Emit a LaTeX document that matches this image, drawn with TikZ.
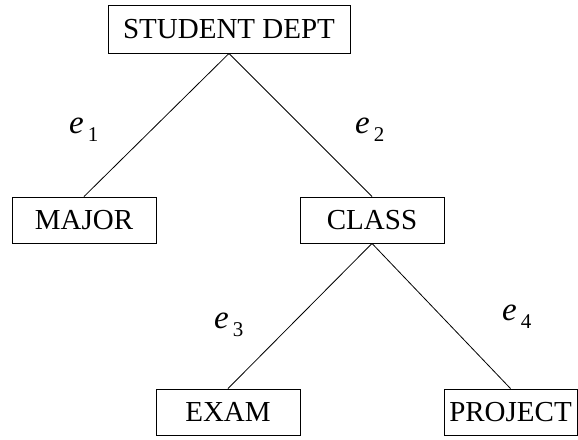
\documentclass[tikz,border=0pt]{standalone}
\usepackage{fontspec}
\setmainfont{Liberation Serif}
\begin{document}
\begin{tikzpicture}[x=1pt,y=-1pt,
  ent/.style={draw,line width=0.9pt,inner sep=0pt,minimum height=46pt,font=\fontsize{29}{32}\selectfont},
  lab/.style={inner sep=0pt,anchor=base west},
  edge/.style={line width=0.8pt}]
\useasboundingbox (0,0) rectangle (578,439);
\node[ent,minimum width=242pt,minimum height=48pt] (sd) at (229,29) {STUDENT DEPT};
\node[ent,minimum width=144pt] (major) at (84,220) {MAJOR};
\node[ent,minimum width=144pt] (class) at (372,220) {CLASS};
\node[ent,minimum width=144pt] (exam) at (228,412) {EXAM};
\node[ent,minimum width=133pt] (proj) at (510.5,412) {PROJECT};
\draw[edge] (sd.south) -- (major.north);
\draw[edge] (sd.south) -- (class.north);
\draw[edge] (class.south) -- (exam.north);
\draw[edge] (class.south) -- (proj.north);
\newcommand{\elab}[1]{{\fontsize{33}{33}\selectfont\itshape e}\hspace{4pt}\raisebox{-8pt}{\fontsize{21}{21}\selectfont #1}}
\node[lab] (e1) at (69,133) {\elab{1}};
\node[lab] (e2) at (355,133) {\elab{2}};
\node[lab] (e3) at (214,328) {\elab{3}};
\node[lab] (e4) at (502,320) {\elab{4}};
\end{tikzpicture}
\end{document}
